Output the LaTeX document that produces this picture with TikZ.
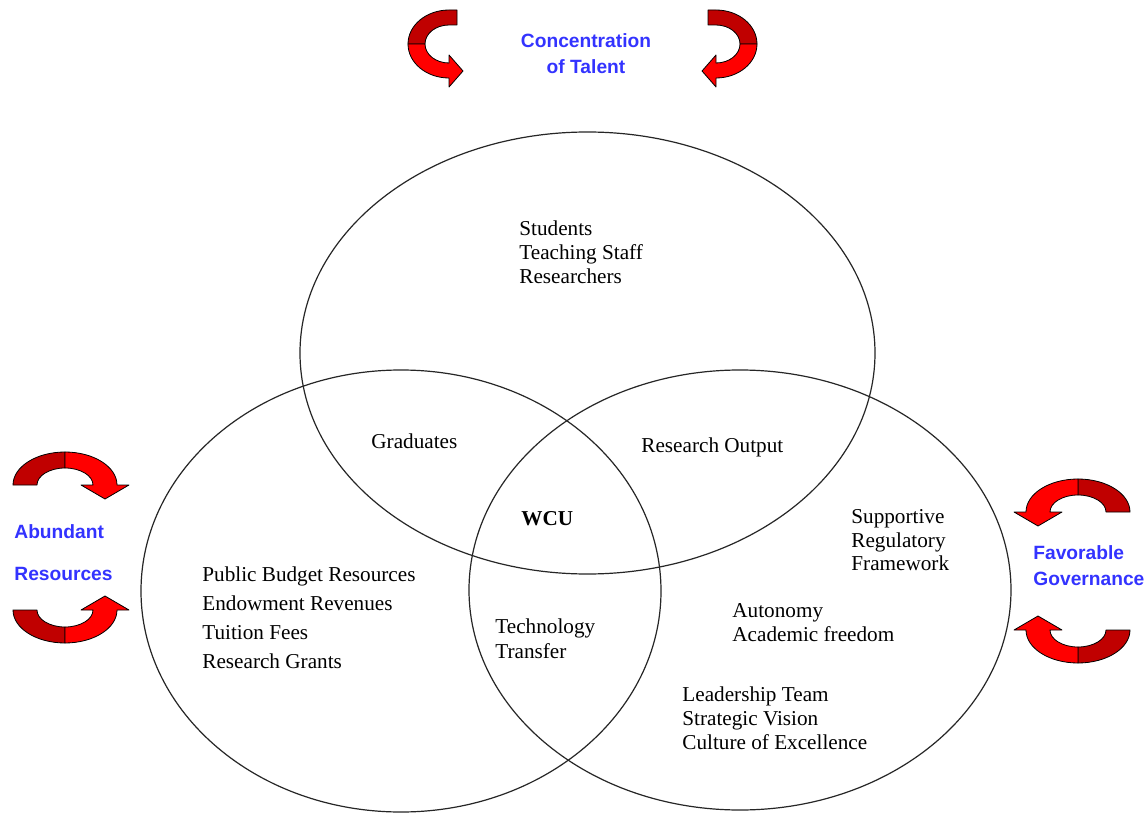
\documentclass[tikz,border=0pt]{standalone}
\usepackage{fontspec}
\setmainfont{Liberation Serif}
\newfontfamily\lsans{Liberation Sans}
\definecolor{lblue}{RGB}{51,51,255}
\definecolor{darkred}{RGB}{192,0,0}
\definecolor{brightred}{RGB}{255,0,0}
\newcommand\sidearrow{%
  \draw[back] (13,485) arc[start angle=180,end angle=270,x radius=52,y radius=33] -- (65,468) arc[start angle=270,end angle=180,x radius=28,y radius=17] -- cycle;
  \draw[front] (65,452) arc[start angle=270,end angle=360,x radius=52,y radius=33] -- (129,485) -- (105,499) -- (81,485) -- (93,485) arc[start angle=360,end angle=270,x radius=28,y radius=17] -- cycle;}
\newcommand\toparrow{%
  \draw[back] (457,10) -- (449,10) arc[start angle=270,end angle=180,x radius=41,y radius=34] -- (425,44) arc[start angle=180,end angle=270,x radius=24,y radius=19] -- (457,25) -- cycle;
  \draw[front] (408,44) arc[start angle=180,end angle=90,x radius=41,y radius=34] -- (449,87) -- (463,71) -- (449,55) -- (449,63) arc[start angle=90,end angle=180,x radius=24,y radius=19] -- cycle;}
\begin{document}
\begin{tikzpicture}[x=0.5pt,y=-0.5pt,
  lbl/.style={anchor=base west, inner sep=0pt, font=\fontsize{10.6}{12}\selectfont},
  blbl/.style={anchor=base, inner sep=0pt, font=\lsans\bfseries\fontsize{9.6}{12}\selectfont, text=lblue},
  bwlbl/.style={blbl, anchor=base west},
  ring/.style={draw=black!85, line width=0.6pt},
  back/.style={fill=darkred, draw=black, line width=0.4pt, line join=round},
  front/.style={fill=brightred, draw=black, line width=0.4pt, line join=round}]
\fill[white] (0,0) rectangle (1147,813);
\useasboundingbox (0,0) rectangle (1147,813);

% circles
\draw[ring] (587.5,353) ellipse [x radius=287.5, y radius=221];
\draw[ring] (401,591) ellipse [x radius=260, y radius=221];
\draw[ring] (740,590) ellipse [x radius=271, y radius=220];

% arrows
\toparrow
\begin{scope}[shift={(1165,0)}, xscale=-1]\toparrow\end{scope}
\sidearrow
\begin{scope}[shift={(0,1095)}, yscale=-1]\sidearrow\end{scope}
\begin{scope}[shift={(1143,27)}, xscale=-1]\sidearrow\end{scope}
\begin{scope}[shift={(1143,1115)}, xscale=-1, yscale=-1]\sidearrow\end{scope}

% blue labels
\node[blbl] (ct1) at (586,48) {Concentration};
\node[blbl] (ct2) at (586,74) {of Talent};
\node[bwlbl] (ar1) at (14,538) {Abundant};
\node[bwlbl] (ar2) at (14,580) {Resources};
\node[bwlbl] (fg1) at (1033,559) {Favorable};
\node[bwlbl] (fg2) at (1033,585) {Governance};

% talent
\node[lbl] (t1) at (519,235) {Students};
\node[lbl] (t2) at (519,259) {Teaching Staff};
\node[lbl] (t3) at (519,284) {Researchers};
% overlaps
\node[lbl] (gr) at (371,448) {Graduates};
\node[lbl] (ro) at (641,452) {Research Output};
\node[lbl, font=\fontsize{10.6}{12}\selectfont\bfseries] (wcu) at (521,525) {WCU};
\node[lbl] (tt1) at (495,633) {Technology};
\node[lbl] (tt2) at (495,658) {Transfer};
% resources
\node[lbl] (r1) at (202,581) {Public Budget Resources};
\node[lbl] (r2) at (202,610) {Endowment Revenues};
\node[lbl] (r3) at (202,639) {Tuition Fees};
\node[lbl] (r4) at (202,668) {Research Grants};
% governance
\node[lbl] (g1) at (851,523) {Supportive};
\node[lbl] (g2) at (851,547) {Regulatory};
\node[lbl] (g3) at (851,570) {Framework};
\node[lbl] (g4) at (732,617) {Autonomy};
\node[lbl] (g5) at (732,641) {Academic freedom};
\node[lbl] (g6) at (682,701) {Leadership Team};
\node[lbl] (g7) at (682,725) {Strategic Vision};
\node[lbl] (g8) at (682,749) {Culture of Excellence};
\end{tikzpicture}
\end{document}
